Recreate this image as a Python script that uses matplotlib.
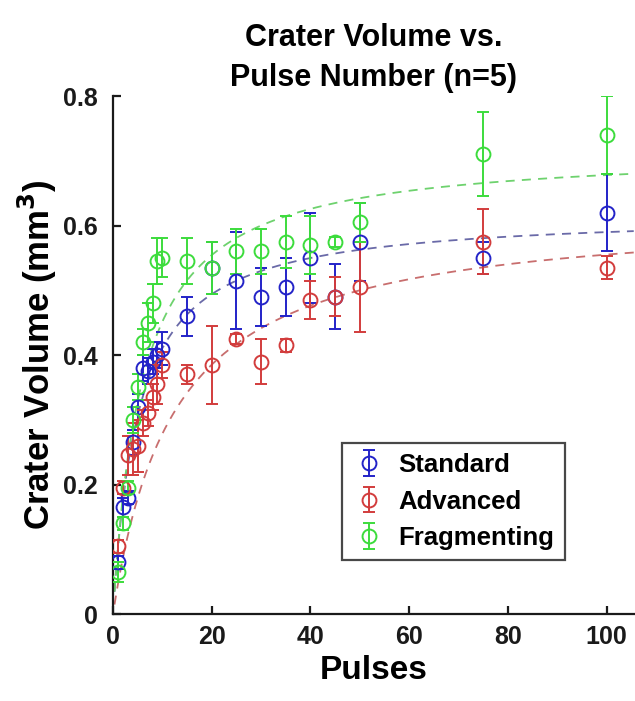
import numpy as np
import matplotlib
matplotlib.use("Agg")
import matplotlib.pyplot as plt

plt.rcParams['font.family'] = ['Liberation Sans', 'DejaVu Sans']
plt.rcParams['font.weight'] = 'bold'

pulses = [1, 2, 3, 4, 5, 6, 7, 8, 9, 10, 15, 20, 25, 30, 35, 40, 45, 50, 75, 100]

standard = [0.08, 0.165, 0.18, 0.265, 0.32, 0.38, 0.375, 0.39, 0.40, 0.41,
            0.46, 0.535, 0.515, 0.49, 0.505, 0.55, 0.49, 0.575, 0.55, 0.62]
standard_err = [0.01, 0.015, 0.01, 0.02, 0.02, 0.02, 0.02, 0.02, 0.02, 0.025,
                0.03, 0.04, 0.075, 0.045, 0.045, 0.07, 0.05, 0.06, 0.025, 0.06]

advanced = [0.105, 0.195, 0.245, 0.255, 0.26, 0.295, 0.31, 0.335, 0.355, 0.385,
            0.37, 0.385, 0.425, 0.39, 0.415, 0.485, 0.49, 0.505, 0.575, 0.535]
advanced_err = [0.01, 0.01, 0.03, 0.04, 0.04, 0.02, 0.02, 0.02, 0.03, 0.02,
                0.015, 0.06, 0.008, 0.035, 0.01, 0.03, 0.03, 0.07, 0.05, 0.018]

fragmenting = [0.065, 0.14, 0.195, 0.30, 0.35, 0.42, 0.45, 0.48, 0.545, 0.55,
               0.545, 0.535, 0.56, 0.56, 0.575, 0.57, 0.575, 0.605, 0.71, 0.74]
fragmenting_err = [0.015, 0.01, 0.01, 0.02, 0.02, 0.02, 0.03, 0.03, 0.035, 0.03,
                   0.035, 0.04, 0.035, 0.035, 0.04, 0.045, 0.008, 0.03, 0.065, 0.06]

# saturating fit parameters (Vmax, K) for y = Vmax * x / (K + x)
fit_standard = (0.62, 5.1)
fit_advanced = (0.624, 12.4)
fit_fragmenting = (0.718, 5.9)

series_names = ['Standard', 'Advanced', 'Fragmenting']
colors = ['#2323C8', '#D23C3C', '#3CDC3C']
fit_colors = ['#6A6AA8', '#C86E6E', '#6ED26E']

fig = plt.figure(figsize=(6.35, 7.01), dpi=100)
ax = fig.add_axes([0.178, 0.124, 0.820, 0.739])

data = [(standard, standard_err, fit_standard),
        (advanced, advanced_err, fit_advanced),
        (fragmenting, fragmenting_err, fit_fragmenting)]

xf = np.linspace(0.3, 105.5, 400)
for (vals, errs, (vm, k)), c, fc in zip(data, colors, fit_colors):
    ax.plot(xf, vm * xf / (k + xf), '--', color=fc, lw=1.3, dashes=(5, 4), zorder=1)

for (vals, errs, _), c, name in zip(data, colors, series_names):
    ax.errorbar(pulses, vals, yerr=errs, fmt='o', mfc='none', mec=c, ecolor=c,
                color=c, ms=10, mew=1.4, elinewidth=1.4, capsize=4.5, capthick=1.4,
                label=name, zorder=3)

ax.set_xlim(0, 105.5)
ax.set_ylim(0, 0.8)
ax.set_xticks([0, 20, 40, 60, 80, 100])
ax.set_yticks([0, 0.2, 0.4, 0.6, 0.8])
ax.set_yticklabels(['0', '0.2', '0.4', '0.6', '0.8'])
ax.spines['top'].set_visible(False)
ax.spines['right'].set_visible(False)
for s in ['left', 'bottom']:
    ax.spines[s].set_linewidth(1.6)
    ax.spines[s].set_color('#1a1a1a')
ax.tick_params(direction='in', length=6, width=1.6, labelsize=18, colors='#1a1a1a')
ax.tick_params(axis='y', pad=11)
ax.tick_params(axis='x', pad=8)
for lab in ax.get_xticklabels() + ax.get_yticklabels():
    lab.set_fontweight('bold')

ax.set_xlabel('Pulses', fontsize=24, fontweight='bold', labelpad=4)
ax.set_ylabel('Crater Volume (mm$^\\mathbf{3}$)', fontsize=25, fontweight='bold', labelpad=3)
ax.set_title('Crater Volume vs.\nPulse Number (n=5)', fontsize=22, fontweight='bold',
             pad=7, linespacing=1.45)

leg = ax.legend(loc='lower left', bbox_to_anchor=(0.44, 0.104), fontsize=18.5,
                borderaxespad=0,
                frameon=True, fancybox=False, edgecolor='#1a1a1a',
                handletextpad=0.5, borderpad=0.4, labelspacing=0.48, handlelength=1.3)
leg.get_frame().set_linewidth(1.6)
for t in leg.get_texts():
    t.set_fontweight('bold')

fig.savefig('out.png', dpi=100)
